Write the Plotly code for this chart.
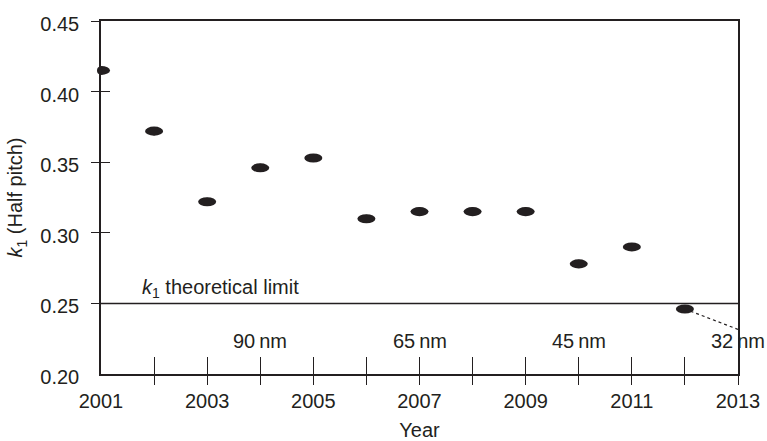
import plotly.graph_objects as go

years = [2001, 2002, 2003, 2004, 2005, 2006, 2007, 2008, 2009, 2010, 2011, 2012]
k1_values = [0.415, 0.372, 0.322, 0.346, 0.353, 0.310, 0.315, 0.315, 0.315, 0.278, 0.290, 0.246]

limit_value = 0.25
limit_years = [2001, 2013]

trend_years = [2012, 2013]
trend_values = [0.246, 0.2316]

node_labels = ["90\u2009nm", "65\u2009nm", "45\u2009nm", "32\u2009nm"]
node_years = [2004, 2007, 2010, 2013]
node_y = 0.2235

x_label_vals = [2001, 2003, 2005, 2007, 2009, 2011, 2013]
x_label_text = ["2001", "2003", "2005", "2007", "2009", "2011", "2013"]
x_tick_vals = list(range(2002, 2014))
y_label_vals = [0.20, 0.25, 0.30, 0.35, 0.40, 0.45]
y_label_text = ["0.20", "0.25", "0.30", "0.35", "0.40", "0.45"]
y_tick_vals = [0.25, 0.30, 0.35, 0.40, 0.45]

INK = "#231f20"
FONT = "Liberation Sans, Arial, Helvetica, sans-serif"
X_RANGE = [2001, 2013]
Y_RANGE = [0.20, 0.45]

fig = go.Figure()

fig.add_trace(go.Scatter(x=limit_years, y=[limit_value] * len(limit_years), mode="lines",
                         line=dict(color=INK, width=1.5), showlegend=False, hoverinfo="skip"))
fig.add_trace(go.Scatter(x=trend_years, y=trend_values, mode="lines",
                         line=dict(color=INK, width=1.2, dash="dot"), showlegend=False,
                         hoverinfo="skip", cliponaxis=False))
fig.add_trace(go.Scatter(x=years, y=k1_values, mode="markers",
                         marker=dict(color=INK, size=8, line=dict(width=0)),
                         showlegend=False, cliponaxis=False))

hw, hh = 0.17, 0.0032
for xv, yv in zip(years, k1_values):
    fig.add_shape(type="circle", xref="x", yref="y", x0=xv - hw, x1=xv + hw, y0=yv - hh, y1=yv + hh,
                  fillcolor=INK, line=dict(width=0), layer="above")

for lab, xv in zip(node_labels, node_years):
    fig.add_annotation(x=xv, y=node_y, xref="x", yref="y", text=lab, showarrow=False,
                       font=dict(size=20, color=INK, family=FONT), xanchor="center", yanchor="middle")

fig.add_annotation(x=2001.73, y=limit_value, xref="x", yref="y",
                   text="<i>k</i><sub>1</sub> theoretical limit", showarrow=False,
                   font=dict(size=20, color=INK, family=FONT), xanchor="left", yanchor="bottom")

tickfont = dict(size=20, color=INK, family=FONT)
tick_axis = dict(showticklabels=False, showline=False, showgrid=False, zeroline=False,
                 tickcolor=INK, tickwidth=1.3, automargin=False)

fig.update_layout(
    width=767, height=441,
    margin=dict(l=101, r=29, t=21, b=67),
    paper_bgcolor="white", plot_bgcolor="white",
    font=dict(family=FONT, color=INK, size=20),
    xaxis=dict(range=X_RANGE, tickvals=x_label_vals, ticktext=x_label_text, ticks="",
               ticklabelstandoff=8, showline=True, mirror=True, linecolor=INK, linewidth=1.5,
               showgrid=False, zeroline=False, automargin=False, tickfont=tickfont,
               title=dict(text="Year", font=tickfont, standoff=23)),
    xaxis2=dict(range=X_RANGE, overlaying="x", anchor="y", side="bottom", tickvals=x_tick_vals,
                ticks="inside", ticklen=17, **tick_axis),
    xaxis3=dict(range=X_RANGE, overlaying="x", anchor="y", side="bottom", tickvals=x_tick_vals,
                ticks="outside", ticklen=10, **tick_axis),
    yaxis=dict(range=Y_RANGE, tickvals=y_label_vals, ticktext=y_label_text, ticks="",
               ticklabelstandoff=16, ticklabelshift=3, showline=True, mirror=True, linecolor=INK,
               linewidth=1.5, showgrid=False, zeroline=False, automargin=False, tickfont=tickfont,
               title=dict(text="<i>k</i><sub>1</sub> (Half pitch)", font=tickfont, standoff=12)),
    yaxis2=dict(range=Y_RANGE, overlaying="y", anchor="x", side="left", tickvals=y_tick_vals,
                ticks="inside", ticklen=9, **tick_axis),
    yaxis3=dict(range=Y_RANGE, overlaying="y", anchor="x", side="left", tickvals=y_tick_vals,
                ticks="outside", ticklen=9, **tick_axis),
)

fig.add_trace(go.Scatter(x=[2001], y=[0.2], xaxis="x2", yaxis="y2", mode="markers",
                         marker=dict(opacity=0), showlegend=False, hoverinfo="skip"))
fig.add_trace(go.Scatter(x=[2001], y=[0.2], xaxis="x3", yaxis="y3", mode="markers",
                         marker=dict(opacity=0), showlegend=False, hoverinfo="skip"))

fig.write_html("out.html", config={"displayModeBar": False},
               post_script="document.body.style.margin='0';document.body.style.overflow='hidden';")
